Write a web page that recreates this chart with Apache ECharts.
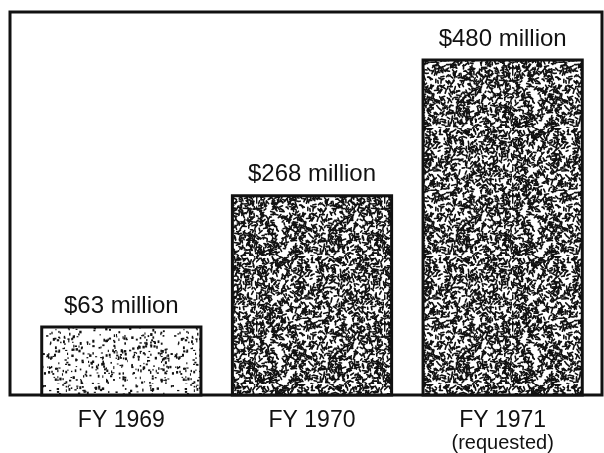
<!DOCTYPE html>
<html>
<head>
<meta charset="utf-8">
<script src="https://cdn.jsdelivr.net/npm/echarts@6/dist/echarts.min.js"></script>
<style>html,body{margin:0;padding:0;background:#fff;}#c{width:604px;height:453px;}</style>
</head>
<body>
<div id="c"></div>
<script>
// ---- data ----
var categories = ['FY 1969', 'FY 1970', 'FY 1971'];
var subLabels = ['', '', '(requested)'];
var values = [63, 268, 480];            // $ million
var valueLabels = ['$63 million', '$268 million', '$480 million'];
var textures = ['light', 'dense', 'dense'];

// ---- texture patterns (deterministic speckle) ----
function makePattern(kind) {
  var c = document.createElement('canvas');
  c.width = 128; c.height = 128;
  var g = c.getContext('2d');
  g.fillStyle = '#ffffff';
  g.fillRect(0, 0, 128, 128);
  var s = kind === 'light' ? 12345 : 67891;
  function rnd() { s = (s * 1103515245 + 12345) % 2147483648; return s / 2147483648; }
  g.fillStyle = '#111';
  g.strokeStyle = '#111';
  if (kind === 'light') {
    for (var i = 0; i < 780; i++) {
      var x = rnd() * 128, y = rnd() * 128, w = 1 + rnd() * 1.4, h = 1 + rnd() * 2;
      g.fillRect(x, y, w, h);
    }
  } else {
    g.lineWidth = 1.6;
    g.lineCap = 'round';
    for (var j = 0; j < 1900; j++) {
      var x0 = rnd() * 128, y0 = rnd() * 128, a = rnd() * Math.PI * 2, l = 1.5 + rnd() * 3;
      g.beginPath();
      g.moveTo(x0, y0);
      g.lineTo(x0 + Math.cos(a) * l, y0 + Math.sin(a) * l);
      g.stroke();
    }
  }
  return c;
}
var patterns = { light: makePattern('light'), dense: makePattern('dense') };

var Y_MIN = -43, Y_MAX = 555;

var chart = echarts.init(document.getElementById('c'), null, { renderer: 'canvas' });
chart.setOption({
  backgroundColor: '#ffffff',
  animation: false,
  grid: [
    { left: 10, right: 2, top: 12, bottom: 58, show: true, borderColor: '#111', borderWidth: 3, backgroundColor: 'transparent' },
    { left: 26, right: 6, top: 12, bottom: 58 }
  ],
  xAxis: [
    { gridIndex: 0, type: 'value', show: false, min: 0, max: 1 },
    {
      gridIndex: 1, type: 'category', data: categories,
      axisLine: { show: false }, axisTick: { show: false },
      axisLabel: {
        margin: 14,
        formatter: function (v, i) {
          return subLabels[i] ? '{a|' + v + '}\n{b|' + subLabels[i] + '}' : '{a|' + v + '}';
        },
        rich: {
          a: { fontFamily: 'Liberation Sans', fontSize: 23, color: '#111', lineHeight: 24 },
          b: { fontFamily: 'Liberation Sans', fontSize: 20, color: '#111', lineHeight: 20 }
        }
      }
    }
  ],
  yAxis: [
    { gridIndex: 0, type: 'value', show: false, min: 0, max: 1 },
    { gridIndex: 1, type: 'value', show: false, min: Y_MIN, max: Y_MAX }
  ],
  series: [{
    type: 'custom',
    xAxisIndex: 1, yAxisIndex: 1,
    data: values.map(function (v, i) { return [i, v]; }),
    renderItem: function (params, api) {
      var i = api.value(0);
      var top = api.coord([i, api.value(1)]);
      var base = api.coord([i, Y_MIN]);
      var w = api.size([1, 0])[0] * 0.835;
      return {
        type: 'group',
        children: [
          {
            type: 'rect',
            shape: { x: top[0] - w / 2, y: top[1], width: w, height: base[1] - top[1] },
            style: { fill: { image: patterns[textures[i]], repeat: 'repeat' }, stroke: '#111', lineWidth: 3 }
          },
          {
            type: 'text',
            style: {
              text: valueLabels[i], x: top[0], y: top[1] - 9,
              align: 'center', verticalAlign: 'bottom',
              fontFamily: 'Liberation Sans', fontSize: 24, fill: '#111'
            }
          }
        ]
      };
    }
  }]
});
</script>
</body>
</html>
